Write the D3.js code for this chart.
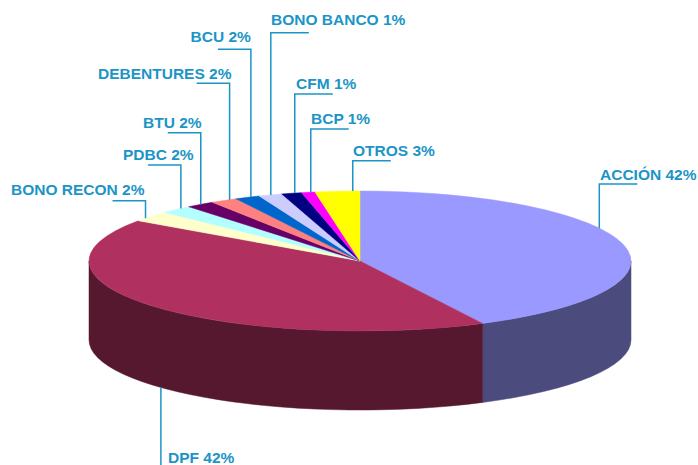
<!DOCTYPE html>
<html>
<head>
<meta charset="utf-8">
<script src="https://cdn.jsdelivr.net/npm/d3@7"></script>
<style>
  body { margin: 0; background: #fff; }
  svg { display: block; }
</style>
</head>
<body>
<script>
// data
const categories = ["ACCIÓN", "DPF", "BONO RECON", "PDBC", "BTU", "DEBENTURES", "BCU", "BONO BANCO", "CFM", "BCP", "OTROS"];
const shares = [42.4, 42.1, 2.45, 1.9, 1.7, 1.6, 1.5, 1.4, 1.2, 0.8, 2.65];
const colors = ["#9999ff", "#b03060", "#ffffcc", "#b3ffff", "#660066", "#ff8080", "#0066cc", "#ccccff", "#000080", "#ff00ff", "#ffff00"];

// label layout: text position, leader y, which side the leader runs, where on the slice it attaches
const labelLayout = [
  {x: 600, y: 180, ly: 184, side: "right", t: 0.405},
  {x: 168, y: 463, ly: null, side: "down", t: 0.488},
  {x: 11, y: 195, ly: 200.7, side: "left", t: 0.29},
  {x: 123, y: 160, ly: 165, side: "left", t: 0.68},
  {x: 143, y: 128, ly: 132.7, side: "left", t: 0.52},
  {x: 98, y: 79, ly: 83.3, side: "left", t: 0.74},
  {x: 190.5, y: 42, ly: 49.3, side: "left", t: 0.65},
  {x: 271, y: 25, ly: 32.7, side: "right", t: 0.52},
  {x: 296, y: 89, ly: 94, side: "right", t: 0.66},
  {x: 311, y: 124, ly: 129, side: "right", t: 0.69},
  {x: 353, y: 156, ly: 160.7, side: "right", t: 0.84}
];

const width = 698, height = 465;
const cx = 360, cy = 261, rx = 271, ry = 70, depth = 79;
const labelColor = "#1b95c6";

const svg = d3.select("body").append("svg")
    .attr("width", width)
    .attr("height", height)
    .style("font", "bold 15.5px 'Liberation Sans', Arial, sans-serif");

const data = categories.map((c, i) => ({name: c, value: shares[i], color: colors[i], layout: labelLayout[i]}));

const arcs = d3.pie().sort(null).value(d => d.value)(data);

const px = a => cx + rx * Math.sin(a);
const py = (a, dy = 0) => cy + dy - ry * Math.cos(a);

function topPath(d) {
  const a0 = d.startAngle, a1 = d.endAngle;
  const large = a1 - a0 > Math.PI ? 1 : 0;
  return `M${cx},${cy}L${px(a0)},${py(a0)}A${rx},${ry} 0 ${large} 1 ${px(a1)},${py(a1)}Z`;
}

function sidePath(d) {
  const a0 = Math.max(d.startAngle, Math.PI / 2);
  const a1 = Math.min(d.endAngle, Math.PI * 1.5);
  if (a1 <= a0) return null;
  return `M${px(a0)},${py(a0)}A${rx},${ry} 0 0 1 ${px(a1)},${py(a1)}` +
    `L${px(a1)},${py(a1, depth)}A${rx},${ry} 0 0 0 ${px(a0)},${py(a0, depth)}Z`;
}

// side walls
svg.append("g")
  .selectAll("path")
  .data(arcs.filter(d => sidePath(d)))
  .join("path")
    .attr("d", sidePath)
    .attr("fill", d => d3.rgb(d.data.color).darker(2.0))
    .attr("stroke", d => d3.rgb(d.data.color).darker(2.0))
    .attr("stroke-width", 0.5);

// top faces
svg.append("g")
  .selectAll("path")
  .data(arcs)
  .join("path")
    .attr("d", topPath)
    .attr("fill", d => d.data.color)
    .attr("stroke", d => d.data.color)
    .attr("stroke-width", 0.5);

// labels with leader lines
const lab = svg.append("g");
arcs.forEach(d => {
  const L = d.data.layout;
  const a = d.startAngle + L.t * (d.endAngle - d.startAngle);
  const ax = px(a);
  let pts;
  if (L.side === "down") {
    pts = [[ax, py(a, depth)], [ax, height + 5]];
  } else {
    const hx = L.side === "left" ? ax - 33 : ax + 38;
    pts = [[ax, py(a)], [ax, L.ly], [hx, L.ly]];
  }
  lab.append("path")
    .attr("d", d3.line()(pts))
    .attr("fill", "none")
    .attr("stroke", labelColor)
    .attr("stroke-width", 1.5);
  lab.append("text")
    .attr("x", L.x)
    .attr("y", L.y)
    .attr("fill", labelColor)
    .text(`${d.data.name} ${Math.round(d.data.value)}%`);
});
</script>
</body>
</html>
